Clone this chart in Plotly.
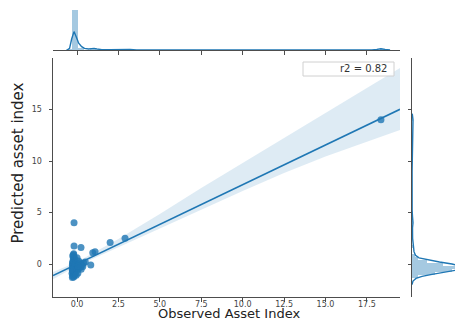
import plotly.graph_objects as go

# ---- data ----
obs_x = [-0.28, -0.20, -0.26, -0.16, -0.24, -0.12, -0.30, -0.18, -0.22, -0.14,
         -0.27, -0.19, -0.25, -0.11, -0.29, -0.17, -0.23, -0.13, -0.26, -0.20,
         -0.24, -0.15, -0.28, -0.18, -0.21, -0.12, -0.27, -0.16, -0.25, -0.19,
         -0.23, -0.14, -0.22, -0.17, -0.26, -0.21, -0.20, -0.24,
         0.00, 0.10, 0.20, 0.30, 0.40, 0.50, 0.15, 0.25, 0.05, 0.10, 0.00, -0.05,
         0.35, 0.20, 0.05,
         -0.18, -0.18, 0.24, 1.09, 0.95, 0.83, 2.00, 2.90, 18.35]
pred_y = [-1.30, -1.25, -1.15, -1.10, -1.00, -0.95, -0.90, -0.85, -0.80, -0.75,
          -0.70, -0.65, -0.60, -0.55, -0.50, -0.45, -0.40, -0.35, -0.30, -0.25,
          -0.20, -0.15, -0.10, -0.05, 0.00, 0.05, 0.10, 0.15, 0.20, 0.30,
          0.40, 0.50, 0.60, 0.70, 0.80, 0.90, 1.00, -0.60,
          -0.60, -0.40, -0.30, -0.10, 0.10, 0.20, 0.00, -0.50, -0.90, 0.30, 0.60, -1.10,
          -0.25, 0.10, -0.20,
          4.00, 1.75, 1.60, 1.20, 1.10, -0.10, 2.10, 2.50, 14.00]

# regression fit and its confidence band
fit_x = [-1.45, 0.0, 2.5, 5.0, 7.5, 10.0, 12.5, 15.0, 17.5, 19.5]
fit_y = [-1.12, 0.00, 1.93, 3.85, 5.78, 7.70, 9.63, 11.55, 13.48, 15.02]
ci_hi = [-0.77, 0.20, 2.43, 4.85, 7.38, 9.80, 12.23, 14.65, 17.08, 19.02]
ci_lo = [-1.47, -0.20, 1.63, 3.45, 5.28, 7.10, 8.83, 10.45, 11.88, 13.02]

# top marginal (observed) histogram + kde
top_bin_center = [-0.50, -0.14, 0.22, 0.94, 2.02, 2.74, 18.48]
top_bin_height = [0.03, 1.00, 0.06, 0.02, 0.015, 0.015, 0.015]
top_bin_width = 0.36
top_kde_x = [-0.60, -0.45, -0.32, -0.18, -0.05, 0.10, 0.28, 0.45, 0.70, 0.90, 1.03,
             1.20, 1.50, 2.00, 2.60, 2.90, 3.20, 3.60, 6.0, 10.0, 14.0, 17.8, 18.1,
             18.35, 18.6, 18.9]
top_kde_y = [0.00, 0.04, 0.28, 0.46, 0.33, 0.17, 0.085, 0.04, 0.025, 0.03, 0.04,
             0.025, 0.01, 0.006, 0.015, 0.025, 0.012, 0.004, 0.002, 0.002, 0.002,
             0.004, 0.015, 0.03, 0.015, 0.0]

# right marginal (predicted) histogram + kde
rt_bin_center = [-1.25, -0.95, -0.65, -0.35, -0.05, 0.25, 0.55, 0.85, 1.70, 4.00, 14.00]
rt_bin_height = [0.12, 0.45, 0.80, 0.95, 0.62, 0.30, 0.12, 0.06, 0.03, 0.02, 0.02]
rt_bin_width = 0.30
rt_kde_y = [-2.00, -1.65, -1.40, -1.20, -1.00, -0.80, -0.60, -0.40, -0.30, -0.15,
            0.00, 0.20, 0.40, 0.60, 0.85, 1.20, 1.70, 2.50, 3.50, 4.00, 4.60, 5.2,
            9.0, 13.4, 14.0, 14.6]
rt_kde_v = [0.00, 0.02, 0.08, 0.20, 0.40, 0.65, 0.88, 0.99, 1.00, 0.93,
            0.80, 0.55, 0.30, 0.14, 0.07, 0.04, 0.03, 0.012, 0.01, 0.02, 0.01, 0.003,
            0.002, 0.005, 0.02, 0.005]

x_ticks = [0.0, 2.5, 5.0, 7.5, 10.0, 12.5, 15.0, 17.5]
x_tick_text = ["0.0", "2.5", "5.0", "7.5", "10.0", "12.5", "15.0", "17.5"]
y_ticks = [0, 5, 10, 15]
x_title = "Observed Asset Index"
y_title = "Predicted asset index"
r2_label = "r2 = 0.82"

BLUE = "#1f77b4"
AX = "#4d4d4d"
OFF = 8                 # the page body adds an 8px margin
W, H = 463 - OFF, 322 - OFF


def fx(px):
    return (px - OFF) / W


def fy(py):
    return (H - (py - OFF)) / H


fig = go.Figure()

# CI band
fig.add_trace(go.Scatter(x=fit_x, y=ci_lo, mode="lines", line=dict(width=0),
                         hoverinfo="skip", xaxis="x", yaxis="y"))
fig.add_trace(go.Scatter(x=fit_x, y=ci_hi, mode="lines", line=dict(width=0),
                         fill="tonexty", fillcolor="rgba(31,119,180,0.15)",
                         hoverinfo="skip", xaxis="x", yaxis="y"))
# scatter
fig.add_trace(go.Scatter(x=obs_x, y=pred_y, mode="markers",
                         marker=dict(size=7, color="rgba(31,119,180,0.8)", line=dict(width=0)),
                         xaxis="x", yaxis="y"))
# fit line
fig.add_trace(go.Scatter(x=fit_x, y=fit_y, mode="lines",
                         line=dict(color=BLUE, width=1.6), xaxis="x", yaxis="y"))

# top marginal
fig.add_trace(go.Bar(x=top_bin_center, y=top_bin_height, width=top_bin_width,
                     marker=dict(color="rgba(31,119,180,0.4)", line=dict(width=0)),
                     xaxis="x2", yaxis="y2"))
fig.add_trace(go.Scatter(x=top_kde_x, y=top_kde_y, mode="lines",
                         line=dict(color=BLUE, width=1.4), xaxis="x2", yaxis="y2"))

# right marginal
fig.add_trace(go.Bar(y=rt_bin_center, x=rt_bin_height, width=rt_bin_width, orientation="h",
                     marker=dict(color="rgba(31,119,180,0.4)", line=dict(width=0)),
                     xaxis="x3", yaxis="y3"))
fig.add_trace(go.Scatter(x=rt_kde_v, y=rt_kde_y, mode="lines",
                         line=dict(color=BLUE, width=1.4), xaxis="x3", yaxis="y3"))

XR = [-1.45, 19.5]
YR = [-3.2, 20.0]
XD = [fx(53), fx(400)]
YD = [fy(297), fy(58)]
tickfont = dict(family="DejaVu Sans", size=8, color="#444444")
common = dict(showline=True, linecolor=AX, linewidth=1, ticks="outside", ticklen=3.5,
              tickcolor=AX, showgrid=False, zeroline=False, automargin=False)

fig.update_layout(
    width=W, height=H,
    margin=dict(l=0, r=0, t=0, b=0),
    paper_bgcolor="white", plot_bgcolor="white",
    showlegend=False, bargap=0,
    xaxis=dict(domain=XD, range=XR, anchor="y", tickvals=x_ticks, ticktext=x_tick_text,
               tickfont=tickfont, ticklabelstandoff=-4, **common),
    yaxis=dict(domain=YD, range=YR, anchor="x", tickvals=y_ticks, tickfont=tickfont,
               ticklabelstandoff=5, **common),
    xaxis2=dict(domain=XD, range=XR, anchor="y2", tickvals=x_ticks, showticklabels=False,
                **common),
    yaxis2=dict(domain=[fy(50), fy(10)], range=[0, 1.0], anchor="x2", visible=False),
    xaxis3=dict(domain=[fx(412), 1.0], range=[0, 1.02], anchor="y3", visible=False),
    yaxis3=dict(domain=YD, range=YR, anchor="x3", tickvals=y_ticks, showticklabels=False,
                **common),
)

# axis titles
fig.add_annotation(xref="paper", yref="paper", x=fx(229), y=0,
                   text=x_title, showarrow=False, xanchor="center", yanchor="bottom",
                   borderpad=0,
                   font=dict(family="DejaVu Sans", size=13, color="#222222"))
fig.add_annotation(xref="paper", yref="paper", x=fx(17.5), y=fy(163),
                   text=y_title, showarrow=False, textangle=-90,
                   xanchor="center", yanchor="middle",
                   font=dict(family="DejaVu Sans", size=15, color="#222222"))

# legend-like box holding the r2 label
fig.add_shape(type="rect", xref="x domain", yref="y domain",
              x0=(303 - 53) / 347, x1=(394 - 53) / 347,
              y0=(297 - 76) / 239, y1=(297 - 62) / 239,
              line=dict(color="#d0d0d0", width=1), fillcolor="rgba(255,255,255,0.85)")
fig.add_annotation(xref="x domain", yref="y domain", x=(389 - 53) / 347, y=(297 - 69) / 239,
                   text=r2_label, showarrow=False, xanchor="right", yanchor="middle",
                   font=dict(family="DejaVu Sans", size=10, color="#333333"))

fig.write_html("out.html")
